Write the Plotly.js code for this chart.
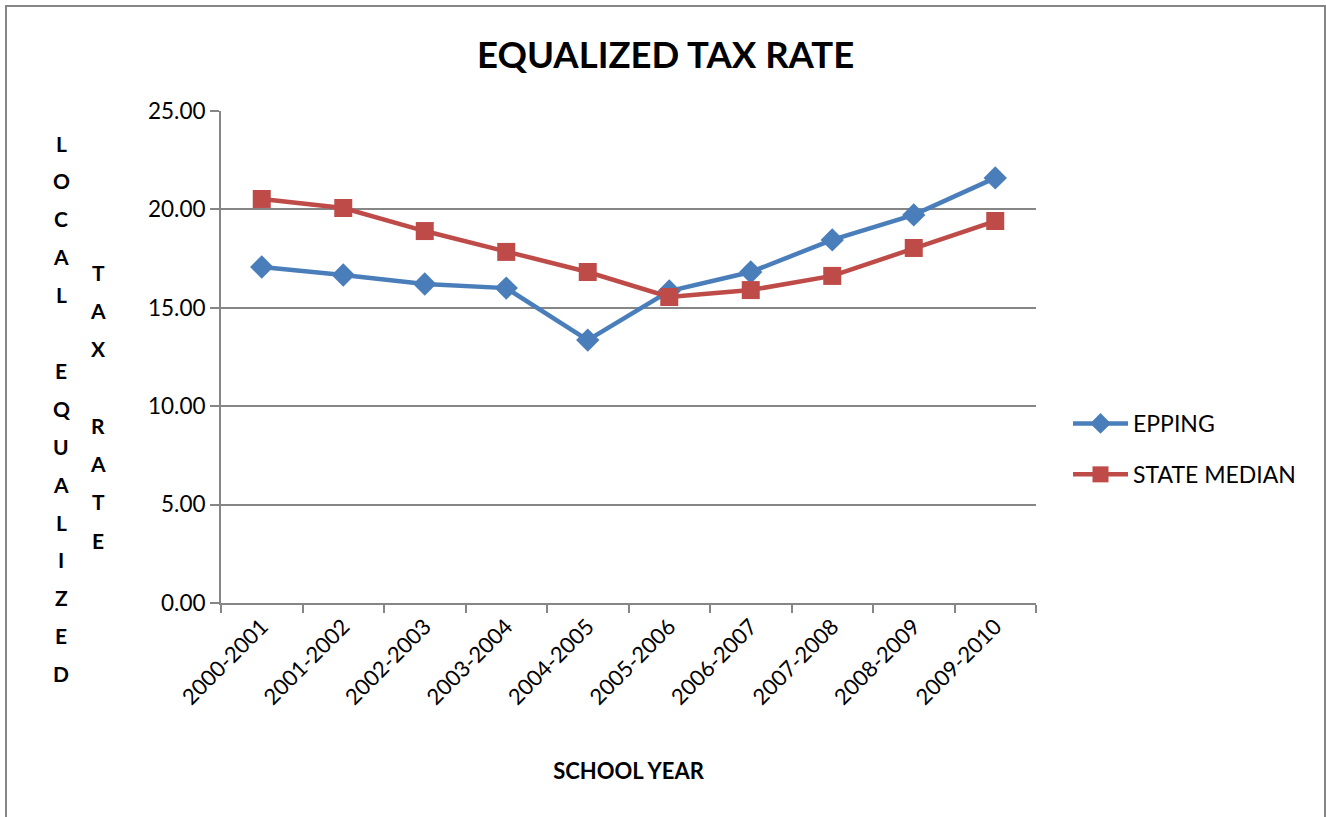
<!DOCTYPE html>
<html>
<head>
<meta charset="utf-8">
<script src="https://cdn.plot.ly/plotly-3.0.1.min.js"></script>
<style>html,body{margin:0;padding:0;background:#fff;}#chart{width:1326px;height:817px;}</style>
</head>
<body>
<div id="chart"></div>
<script>
const schoolYears = ["2000-2001","2001-2002","2002-2003","2003-2004","2004-2005","2005-2006","2006-2007","2007-2008","2008-2009","2009-2010"];
const epping = [17.07, 16.67, 16.21, 16.00, 13.36, 15.85, 16.82, 18.45, 19.72, 21.60];
const stateMedian = [20.53, 20.07, 18.90, 17.84, 16.82, 15.55, 15.90, 16.62, 18.04, 19.41];
const yTitleCol1 = "LOCAL EQUALIZED";
const yTitleCol2 = "TAX RATE";

const W = 1326, H = 817;
const M = {l: 221, r: 290, t: 111, b: 214};
const plotW = W - M.l - M.r, plotH = H - M.t - M.b;
const px2x = p => (p - M.l) / plotW;
const py2y = p => (H - M.b - p) / plotH;

const FONT = "Lato, 'Open Sans', sans-serif";
const GRAY = "#868686";

const traces = [
  {x: schoolYears, y: epping, name: "EPPING", type: "scatter", mode: "lines+markers",
   line: {color: "#4A7EBB", width: 4.5}, marker: {symbol: "diamond", size: 18, color: "#4A7EBB"},
   legendgroup: "a"},
  {x: schoolYears, y: stateMedian, name: "STATE MEDIAN", type: "scatter", mode: "lines+markers",
   line: {color: "#BE4B48", width: 4.5}, marker: {symbol: "square", size: 18, color: "#BE4B48"},
   legendgroup: "b"}
];

const annotations = [];
function addColumn(str, xpx, ypx0, step) {
  for (let i = 0; i < str.length; i++) {
    const ch = str[i];
    if (ch === " ") continue;
    annotations.push({text: "<b>" + ch + "</b>", xref: "paper", yref: "paper",
      x: px2x(xpx), y: py2y(ypx0 + i * step), xanchor: "center", yanchor: "middle",
      showarrow: false, font: {family: FONT, size: 21, color: "#000"}});
  }
}
addColumn(yTitleCol1, 61, 143, 37.9);
addColumn(yTitleCol2, 98, 272, 38.3);

const layout = {
  width: W, height: H,
  margin: M,
  paper_bgcolor: "#fff", plot_bgcolor: "#fff",
  font: {family: FONT, color: "#000", size: 22},
  title: {text: "<b>EQUALIZED TAX RATE</b>", font: {family: FONT, size: 36.5, color: "#000"},
          x: 0.502, xanchor: "center", y: 0.933, yanchor: "middle"},
  xaxis: {type: "category", showgrid: false, showline: true, linecolor: GRAY, linewidth: 2,
          ticks: "outside", tickson: "boundaries", ticklen: 8, tickcolor: GRAY, tickwidth: 2,
          tickangle: -45, tickfont: {family: FONT, size: 22, color: "#000"},
          title: {text: "<b>SCHOOL YEAR</b>", font: {family: FONT, size: 22, color: "#000"}, standoff: 55},
          range: [-0.5, 9.5], fixedrange: true},
  yaxis: {range: [0, 25], dtick: 5, tickformat: ".2f", showgrid: true, gridcolor: GRAY, gridwidth: 2,
          showline: true, linecolor: GRAY, linewidth: 2, ticks: "outside", ticklen: 9,
          tickcolor: GRAY, tickwidth: 2, zeroline: false,
          tickfont: {family: FONT, size: 22.5, color: "#000"}, fixedrange: true},
  legend: {x: px2x(1068), xanchor: "left", y: py2y(449), yanchor: "middle", itemwidth: 55,
           font: {family: FONT, size: 23, color: "#000"}, traceorder: "grouped", tracegroupgap: 18,
           bgcolor: "rgba(0,0,0,0)"},
  annotations: annotations,
  shapes: [{type: "rect", xref: "paper", yref: "paper",
            x0: px2x(6), x1: px2x(1325), y0: py2y(830), y1: py2y(6),
            line: {color: GRAY, width: 2}, fillcolor: "rgba(0,0,0,0)", layer: "below"}],
  showlegend: true
};

Plotly.newPlot("chart", traces, layout, {displayModeBar: false, staticPlot: true});
</script>
</body>
</html>
